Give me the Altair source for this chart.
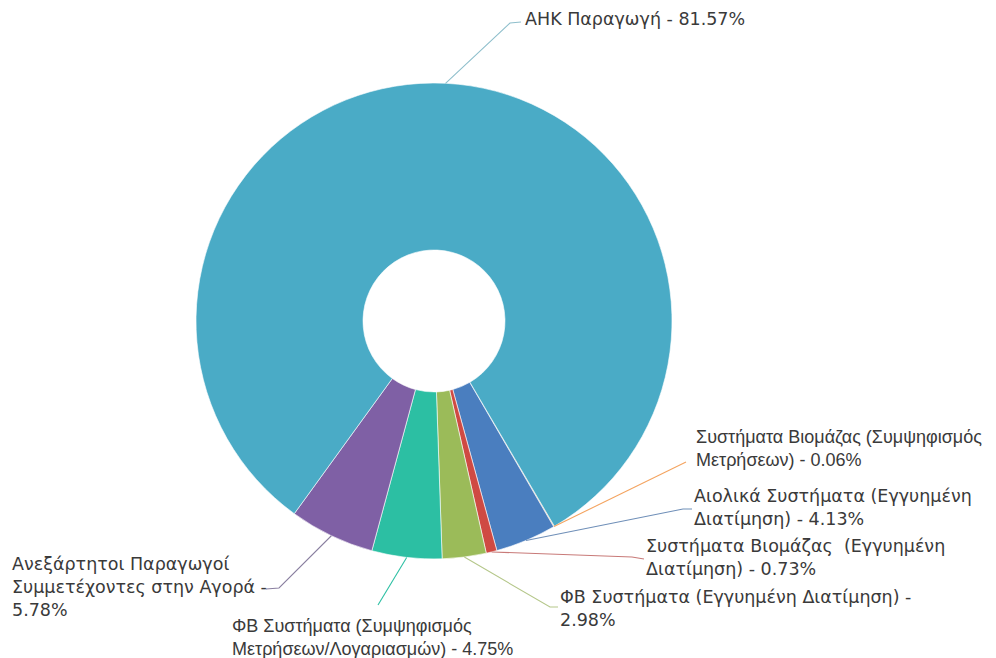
import math
import altair as alt
import pandas as pd

# ---- data ----
categories = [
    "Συστήματα Βιομάζας (Συμψηφισμός Μετρήσεων)",
    "Αιολικά Συστήματα (Εγγυημένη Διατίμηση)",
    "Συστήματα Βιομάζας  (Εγγυημένη Διατίμηση)",
    "ΦΒ Συστήματα (Εγγυημένη Διατίμηση)",
    "ΦΒ Συστήματα (Συμψηφισμός Μετρήσεων/Λογαριασμών)",
    "Ανεξάρτητοι Παραγωγοί Συμμετέχοντες στην Αγορά",
    "ΑΗΚ Παραγωγή",
]
values = [0.06, 4.13, 0.73, 2.98, 4.75, 5.78, 81.57]
label_lines = [
    ["Συστήματα Βιομάζας (Συμψηφισμός", "Μετρήσεων) - 0.06%"],
    ["Αιολικά Συστήματα (Εγγυημένη", "Διατίμηση) - 4.13%"],
    ["Συστήματα Βιομάζας \u00a0(Εγγυημένη", "Διατίμηση) - 0.73%"],
    ["ΦΒ Συστήματα (Εγγυημένη Διατίμηση) -", "2.98%"],
    ["ΦΒ Συστήματα (Συμψηφισμός", "Μετρήσεων/Λογαριασμών) - 4.75%"],
    ["Ανεξάρτητοι Παραγωγοί", "Συμμετέχοντες στην Αγορά -", "5.78%"],
    ["ΑΗΚ Παραγωγή - 81.57%"],
]

# ---- styles / layout ----
slice_colors = ["#f79646", "#4a7ebf", "#cf4a43", "#9bbb59", "#2cbfa3", "#7f60a5", "#4aabc6"]
line_colors = ["#f4a460", "#6f8fb8", "#c87a78", "#b5c78a", "#2cbfa3", "#8a7fa0", "#8fbfcc"]
label_fonts = ["Liberation Sans", "DejaVu Sans", "DejaVu Sans", "DejaVu Sans",
               "Liberation Sans", "DejaVu Sans", "DejaVu Sans"]
font_sizes = {"Liberation Sans": 18, "DejaVu Sans": 17.5}
label_x = [696, 694, 646, 560, 232, 12, 525]
label_y0 = [438, 497, 547, 598, 627, 565, 20]
line_h = 23
elbows = [
    [(686, 462)],
    [(683, 509), (692, 509)],
    [(632, 557), (644, 559)],
    [(550, 607), (558, 607)],
    [(378, 605)],
    [(279, 588), (266, 589)],
    [(510, 23), (521, 22)],
]
CX, CY, R_OUT, R_IN = 434, 321, 238, 71
START_DEG = 149.6
W, H, M = 980, 650, 8

start = math.radians(START_DEG)
total = sum(values)

df = pd.DataFrame({"cat": categories, "val": values, "idx": list(range(len(values)))})

# connectors: anchor derived from the slice's mid-angle
rows = []
cum = 0.0
for i, v in enumerate(values):
    mid = start + 2 * math.pi * (cum + v / 2) / total
    cum += v
    ax = CX + R_OUT * math.sin(mid)
    ay = CY - R_OUT * math.cos(mid)
    pts = [(ax, ay)] + elbows[i]
    for k, (px, py) in enumerate(pts):
        rows.append({"cat": categories[i], "k": k, "px": px, "py": py, "lc": line_colors[i]})
conn = pd.DataFrame(rows)

trows = []
for i, lines in enumerate(label_lines):
    for j, t in enumerate(lines):
        trows.append({"t": t, "px": label_x[i], "py": label_y0[i] + j * line_h, "font": label_fonts[i]})
tdf = pd.DataFrame(trows)

xs = alt.Scale(domain=[M, M + W], range=[0, W], nice=False, zero=False)
ys = alt.Scale(domain=[M + H, M], range=[H, 0], nice=False, zero=False)

arcs = alt.Chart(df).mark_arc(radius=R_OUT, innerRadius=R_IN, stroke="#ffffff", strokeWidth=0.6).encode(
    theta=alt.Theta("val:Q", stack=True, scale=alt.Scale(range=[start, start + 2 * math.pi])),
    color=alt.Color("cat:N", scale=alt.Scale(domain=categories, range=slice_colors), legend=None),
    order=alt.Order("idx:Q"),
    x=alt.value(CX - M),
    y=alt.value(CY - M),
)

lines = alt.Chart(conn).mark_line(strokeWidth=1.1).encode(
    x=alt.X("px:Q", scale=xs, axis=None),
    y=alt.Y("py:Q", scale=ys, axis=None),
    detail="cat:N",
    order="k:Q",
    color=alt.Color("lc:N", scale=None),
)

def text_layer(font):
    return alt.Chart(tdf[tdf["font"] == font]).mark_text(
        align="left", baseline="middle", font=font, fontSize=font_sizes[font], color="#3a3a3a"
    ).encode(
        x=alt.X("px:Q", scale=xs, axis=None),
        y=alt.Y("py:Q", scale=ys, axis=None),
        text="t:N",
    )

chart = alt.layer(arcs, lines, text_layer("Liberation Sans"), text_layer("DejaVu Sans")).properties(
    width=W, height=H, autosize=alt.AutoSizeParams(type="none"), padding=0
).configure_view(stroke=None)

chart.save("out.html", embed_options={"renderer": "svg", "actions": False})
